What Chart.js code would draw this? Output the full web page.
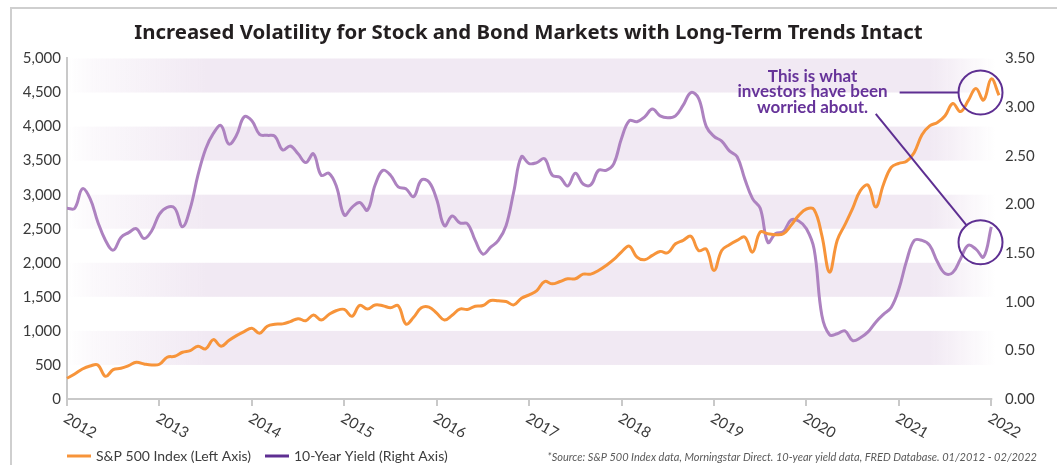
<!DOCTYPE html>
<html><head><meta charset="utf-8">
<script src="https://cdn.jsdelivr.net/npm/chart.js@4.4.1/dist/chart.umd.min.js"></script>
<style>
html,body{margin:0;padding:0;background:#fff;}
#wrap{position:relative;width:1057px;height:465px;}
canvas{display:block;}
</style></head><body>
<div id="wrap"><canvas id="c" width="1057" height="465"></canvas></div>
<script>
// ---- data (monthly, Jan 2012 onward) ----
const yearLabels = ['2012','2013','2014','2015','2016','2017','2018','2019','2020','2021','2022'];
const seriesNames = ['S&P 500 Index (Left Axis)', '10-Year Yield (Right Axis)'];
const sp500 = [
  304, 368, 441, 485, 500, 333, 431, 451, 490, 539, 515, 500,
  510, 613, 627, 686, 711, 774, 735, 872, 774, 858, 931, 990,
  1039, 966, 1069, 1098, 1103, 1137, 1180, 1150, 1235, 1160, 1240, 1300,
  1315, 1215, 1375, 1320, 1380, 1370, 1340, 1370, 1100, 1200, 1340, 1350,
  1260, 1160, 1230, 1320, 1315, 1363, 1373, 1446, 1441, 1431, 1382, 1480,
  1529, 1593, 1725, 1691, 1725, 1765, 1765, 1833, 1833, 1887, 1961, 2049,
  2160, 2245, 2083, 2044, 2108, 2167, 2147, 2279, 2330, 2390, 2180, 2200,
  1887, 2181, 2265, 2328, 2377, 2157, 2451, 2426, 2412, 2426, 2549, 2696,
  2790, 2780, 2402, 1863, 2330, 2560, 2800, 3060, 3140, 2820, 3150, 3400,
  3460, 3490, 3620, 3880, 4010, 4060, 4160, 4340, 4220, 4380, 4560, 4390,
  4700, 4460
];
const yield10 = [
  1.96, 1.96, 2.16, 2.06, 1.82, 1.63, 1.53, 1.66, 1.71, 1.75, 1.65, 1.73,
  1.90, 1.97, 1.96, 1.77, 1.96, 2.30, 2.57, 2.73, 2.81, 2.62, 2.71, 2.90,
  2.86, 2.72, 2.71, 2.70, 2.56, 2.60, 2.52, 2.43, 2.52, 2.30, 2.32, 2.18,
  1.89, 1.97, 2.02, 1.94, 2.20, 2.35, 2.30, 2.18, 2.16, 2.08, 2.25, 2.23,
  2.05, 1.78, 1.88, 1.81, 1.80, 1.63, 1.49, 1.56, 1.63, 1.78, 2.13, 2.49,
  2.42, 2.43, 2.47, 2.30, 2.28, 2.19, 2.32, 2.21, 2.20, 2.35, 2.35, 2.42,
  2.68, 2.86, 2.85, 2.90, 2.98, 2.91, 2.89, 2.91, 3.02, 3.15, 3.09, 2.80,
  2.70, 2.65, 2.55, 2.49, 2.26, 2.06, 1.96, 1.61, 1.70, 1.72, 1.84, 1.83,
  1.75, 1.54, 0.86, 0.66, 0.67, 0.70, 0.60, 0.63, 0.69, 0.79, 0.87, 0.94,
  1.13, 1.42, 1.63, 1.63, 1.58, 1.41, 1.29, 1.30, 1.44, 1.58, 1.54, 1.46,
  1.77
];
const calloutLines = ['This is what', 'investors have been', 'worried about.'];
const titleText = 'Increased Volatility for Stock and Bond Markets with Long-Term Trends Intact';
const sourceText = '*Source: S&P 500 Index data, Morningstar Direct. 10-year yield data, FRED Database. 01/2012 - 02/2022';

// ---- styles ----
const FONT = 'Lato, "Noto Sans", "DejaVu Sans", sans-serif';
const TITLEFONT = '"Noto Sans", Lato, sans-serif';
const ORANGE = '#f7943a';
const LILAC = '#ad82c0';
const DARKPURPLE = '#5e2f92';
const TEXTPURPLE = '#663399';
const AXISGREY = '#c9c9c9';
const TICKCOLOR = '#3a3a3a';
const BAND = [241, 233, 243];

const toPts = arr => arr.map((v, i) => ({x: i, y: v}));

const framePlugin = {
  id: 'frame',
  beforeDraw(chart) {
    const ctx = chart.ctx;
    ctx.save();
    ctx.strokeStyle = '#cfcfcf';
    ctx.lineWidth = 2;
    ctx.beginPath();
    ctx.moveTo(11, 465);
    ctx.lineTo(11, 8);
    ctx.lineTo(1057, 8);
    ctx.stroke();
    ctx.restore();
  }
};

const bandsPlugin = {
  id: 'bands',
  beforeDatasetsDraw(chart) {
    const {ctx, chartArea: a, scales: {y}} = chart;
    const x0 = a.left, x1 = a.right - 4;
    const c = (al) => `rgba(${BAND[0]},${BAND[1]},${BAND[2]},${al})`;
    const g = ctx.createLinearGradient(x0, 0, x1, 0);
    g.addColorStop(0, c(0));
    g.addColorStop(0.03, c(0.3));
    g.addColorStop(0.15, c(1));
    g.addColorStop(0.93, c(1));
    g.addColorStop(1, c(0));
    ctx.save();
    ctx.fillStyle = g;
    const ticks = y.ticks.map(t => t.value);
    for (let k = 1; k < ticks.length - 1; k += 2) {
      const top = y.getPixelForValue(ticks[k + 1]);
      const bot = y.getPixelForValue(ticks[k]);
      ctx.fillRect(x0, top, x1 - x0, bot - top);
    }
    ctx.restore();
  }
};

const decorPlugin = {
  id: 'decor',
  afterDraw(chart) {
    const {ctx, scales: {x, y, y1}} = chart;
    ctx.save();
    // rotated year labels
    ctx.font = '15px ' + FONT;
    ctx.fillStyle = TICKCOLOR;
    ctx.textAlign = 'left';
    ctx.textBaseline = 'middle';
    x.ticks.forEach((t, k) => {
      const px = x.getPixelForValue(t.value);
      ctx.save();
      ctx.translate(px - 2, x.top + 18);
      ctx.rotate(30 * Math.PI / 180);
      ctx.fillText(yearLabels[k], 0, 0);
      ctx.restore();
    });

    // legend
    const ly = 456;
    ctx.lineWidth = 3;
    ctx.strokeStyle = ORANGE;
    ctx.beginPath(); ctx.moveTo(67, ly); ctx.lineTo(91, ly); ctx.stroke();
    ctx.strokeStyle = DARKPURPLE;
    ctx.beginPath(); ctx.moveTo(265, ly); ctx.lineTo(289, ly); ctx.stroke();
    ctx.font = '14px ' + FONT;
    ctx.fillStyle = '#3d3d3d';
    ctx.textAlign = 'left';
    ctx.fillText(seriesNames[0], 96, ly);
    ctx.fillText(seriesNames[1], 294, ly);

    // source
    ctx.font = 'italic 11px ' + FONT;
    ctx.fillStyle = '#5a5a5a';
    ctx.textAlign = 'right';
    ctx.fillText(sourceText, 1037, ly + 1);

    // callout
    const cx1 = x.getPixelForValue(118.6), cy1 = y.getPixelForValue(4500);
    const cx2 = x.getPixelForValue(118.6), cy2 = y1.getPixelForValue(1.61);
    const r = 22;
    ctx.strokeStyle = DARKPURPLE;
    ctx.lineWidth = 2;
    ctx.beginPath(); ctx.arc(cx1, cy1, r, 0, Math.PI * 2); ctx.stroke();
    ctx.beginPath(); ctx.arc(cx2, cy2, r, 0, Math.PI * 2); ctx.stroke();

    const tx = x.getPixelForValue(96.8);
    const ty = y.getPixelForValue(4740);
    ctx.font = 'bold 17px ' + FONT;
    ctx.fillStyle = TEXTPURPLE;
    ctx.textAlign = 'center';
    calloutLines.forEach((s, k) => ctx.fillText(s, tx, ty + k * 15.8));

    ctx.beginPath();
    ctx.moveTo(x.getPixelForValue(108.1), cy1);
    ctx.lineTo(cx1 - r, cy1);
    ctx.stroke();

    const sx = x.getPixelForValue(105.0), sy = ty + 2 * 15.8 + 6;
    const dx = cx2 - sx, dy = cy2 - sy, L = Math.hypot(dx, dy);
    ctx.beginPath();
    ctx.moveTo(sx, sy);
    ctx.lineTo(cx2 - dx / L * r, cy2 - dy / L * r);
    ctx.stroke();
    ctx.restore();
  }
};

new Chart(document.getElementById('c'), {
  type: 'line',
  data: {
    datasets: [
      {label: seriesNames[0], data: toPts(sp500), yAxisID: 'y', borderColor: ORANGE,
       borderWidth: 3, pointRadius: 0, tension: 0.4, clip: false, order: 1},
      {label: seriesNames[1], data: toPts(yield10), yAxisID: 'y1', borderColor: LILAC,
       borderWidth: 3, pointRadius: 0, tension: 0.4, clip: false, order: 2}
    ]
  },
  options: {
    responsive: false,
    animation: false,
    events: [],
    layout: {padding: 0},
    plugins: {
      legend: {display: false},
      tooltip: {enabled: false},
      title: {
        display: true, text: titleText, color: '#231f20',
        font: {family: TITLEFONT, size: 20.4, weight: 'bold'},
        padding: {top: 21, bottom: 13}
      }
    },
    scales: {
      x: {
        type: 'linear', min: 0, max: 121,
        afterBuildTicks: s => { s.ticks = yearLabels.map((_, k) => ({value: k * 12})); },
        ticks: {display: false},
        grid: {display: true, drawOnChartArea: false, drawTicks: true, tickLength: 7, color: AXISGREY, lineWidth: 2},
        border: {display: false},
        afterFit: s => { s.height = 66; }
      },
      y: {
        position: 'left', min: 0, max: 5000,
        ticks: {stepSize: 500, padding: 6, color: TICKCOLOR, font: {family: FONT, size: 15},
                callback: v => v.toLocaleString('en-US')},
        grid: {display: false, drawTicks: false},
        border: {display: true, color: AXISGREY, width: 2},
        afterFit: s => { s.width = 67; }
      },
      y1: {
        position: 'right', min: 0, max: 3.5,
        ticks: {stepSize: 0.5, padding: 6, color: TICKCOLOR, font: {family: FONT, size: 15},
                callback: v => v.toFixed(2)},
        grid: {display: false, drawTicks: false},
        border: {display: false},
        afterFit: s => { s.width = 58; }
      }
    }
  },
  plugins: [framePlugin, bandsPlugin, decorPlugin, {
    id: 'xaxisline',
    afterDraw(chart) {
      const {ctx, scales: {x}} = chart;
      const last = x.getPixelForValue(120);
      ctx.save();
      ctx.strokeStyle = AXISGREY;
      ctx.lineWidth = 2;
      ctx.beginPath();
      ctx.moveTo(x.left - 1, x.top);
      ctx.lineTo(last + 1, x.top);
      ctx.stroke();
      ctx.restore();
    }
  }]
});
</script>
</body></html>
